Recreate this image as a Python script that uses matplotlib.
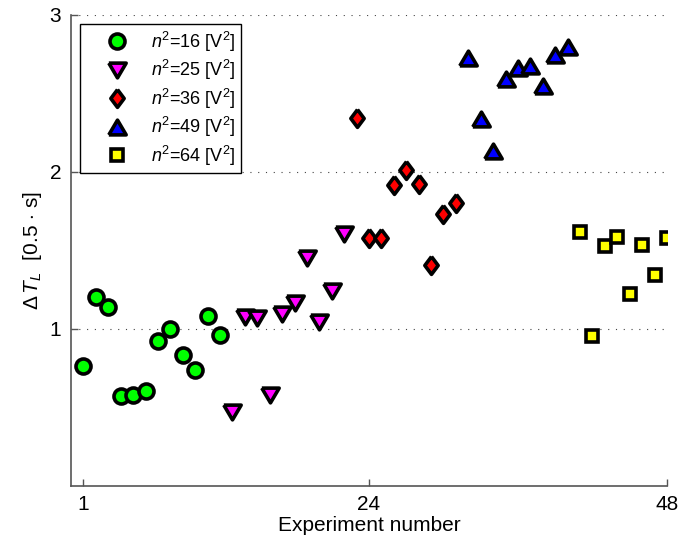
import numpy as np
import matplotlib
matplotlib.use('Agg')
import matplotlib.pyplot as plt
from matplotlib.markers import MarkerStyle

plt.rcParams['font.family'] = ['Liberation Sans', 'DejaVu Sans']
plt.rcParams['mathtext.fontset'] = 'custom'
plt.rcParams['mathtext.rm'] = 'Liberation Sans'
plt.rcParams['mathtext.it'] = 'Liberation Sans:italic'

# experiment number / delta T_L for each voltage group
x16 = [1, 2, 3, 4, 5, 6, 7, 8, 9, 10, 11, 12]
y16 = [0.76, 1.20, 1.14, 0.57, 0.58, 0.605, 0.924, 1.00, 0.83, 0.74, 1.083, 0.962]
x25 = [13, 14, 15, 16, 17, 18, 19, 20, 21, 22]
y25 = [0.467, 1.077, 1.07, 0.578, 1.092, 1.166, 1.452, 1.041, 1.244, 1.603]
x36 = [23, 24, 25, 26, 27, 28, 29, 30, 31]
y36 = [2.344, 1.576, 1.576, 1.915, 2.015, 1.926, 1.406, 1.729, 1.799]
x49 = [32, 33, 34, 35, 36, 37, 38, 39, 40]
y49 = [2.729, 2.336, 2.132, 2.590, 2.662, 2.675, 2.548, 2.748, 2.796]
x64 = [41, 42, 43, 44, 45, 46, 47, 48]
y64 = [1.614, 0.955, 1.527, 1.586, 1.221, 1.535, 1.344, 1.578]

labels = [r'$n^2$=16 [V$^2$]', r'$n^2$=25 [V$^2$]', r'$n^2$=36 [V$^2$]',
          r'$n^2$=49 [V$^2$]', r'$n^2$=64 [V$^2$]']

tri_dn = MarkerStyle([(-1, 0.85), (1, 0.85), (0, -0.85), (-1, 0.85)], joinstyle='miter')
tri_up = MarkerStyle([(-1, -0.85), (1, -0.85), (0, 0.85), (-1, -0.85)], joinstyle='miter')
diam = MarkerStyle([(0, 1), (0.75, 0), (0, -1), (-0.75, 0), (0, 1)], joinstyle='miter')
sq = MarkerStyle('s', joinstyle='miter')

fig = plt.figure(figsize=(6.81, 5.45), dpi=100)
ax = fig.add_axes([0.1043, 0.1088, 0.8751, 0.8637])

mew = 2.6
ax.plot(x16, y16, ls='none', marker='o', ms=10.8, mfc=(0, 1, 0), mec='k', mew=mew, label=labels[0])
ax.plot(x25, y25, ls='none', marker=tri_dn, ms=12.5, mfc=(1, 0, 1), mec='k', mew=mew, label=labels[1])
ax.plot(x36, y36, ls='none', marker=diam, ms=12.8, mfc=(1, 0, 0), mec='k', mew=mew, label=labels[2])
ax.plot(x49, y49, ls='none', marker=tri_up, ms=12.5, mfc=(0, 0, 1), mec='k', mew=mew, label=labels[3])
ax.plot(x64, y64, ls='none', marker=sq, ms=8.2, mfc=(1, 1, 0), mec='k', mew=mew, label=labels[4])

ax.set_xlim(0, 48)
ax.set_ylim(0, 3)
ax.set_xticks([1, 24, 48])
ax.set_yticks([1, 2, 3])
ax.tick_params(direction='in', length=5, width=1, color='#555555', labelsize=15, pad=7)

for s in ['top', 'right']:
    ax.spines[s].set_visible(False)
for s in ['left', 'bottom']:
    ax.spines[s].set_color('#555555')
    ax.spines[s].set_linewidth(1.2)

ax.yaxis.grid(True, linestyle=(0, (1, 6)), color='#444444', linewidth=0.8)
ax.set_axisbelow(True)

ax.set_xlabel('Experiment number', fontsize=15, labelpad=1)
ax.set_ylabel(r'$\Delta\,T_L$  [0.5 $\cdot$ s]', fontsize=15, labelpad=4)

leg = ax.legend(loc='upper left', bbox_to_anchor=(0.0155, 0.981), fontsize=13,
                frameon=True, fancybox=False, edgecolor='k', framealpha=1,
                borderpad=0.32, labelspacing=0.24, handletextpad=0.15,
                handlelength=3.45, borderaxespad=0)
leg.get_frame().set_linewidth(1.0)

fig.savefig('out.png', dpi=100)
